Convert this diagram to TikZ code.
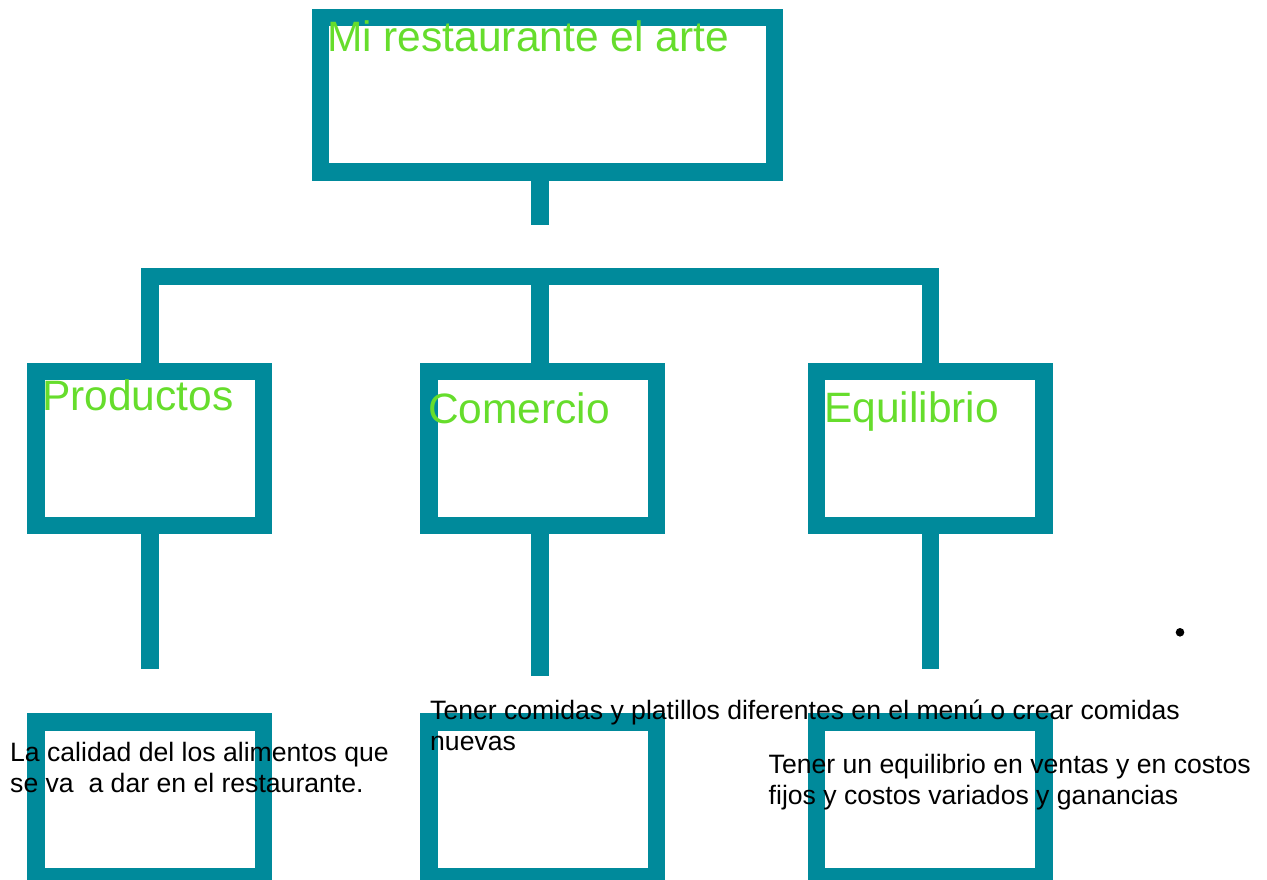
\documentclass[tikz,border=0pt]{standalone}
\usepackage{fontspec}
\setmainfont{Liberation Sans}
\usepackage{tikz}
\usetikzlibrary{positioning}
\definecolor{teal}{RGB}{0,138,155}
\definecolor{leaf}{RGB}{102,221,44}
\tikzset{
  box/.style={draw=teal, line width=17.5pt, minimum width=227.5pt, minimum height=154pt, inner sep=0pt},
  link/.style={draw=teal, line width=17.5pt},
  head/.style={text=leaf, font=\fontsize{42.5}{48}\selectfont, anchor=base west, inner sep=0pt},
  note/.style={text=black, font=\fontsize{26.6}{31}\selectfont, anchor=base west, inner sep=0pt, align=left}
}
\begin{document}
\begin{tikzpicture}[x=1pt, y=-1pt]
    \useasboundingbox (0, 0) rectangle (1267, 879);

    \node [box, minimum width=454pt, minimum height=154.5pt] (top) at (547.5, 94.75) {};
    \node [box] (prod) at (149.75, 448.5) {};
    \node [box] (comer) at (542.7, 448.5) {};
    \node [box] (equil) at (930.3, 448.5) {};
    \node [box, minimum height=154.75pt] (prodB) at (149.75, 799.4) {};
    \node [box, minimum height=154.75pt] (comerB) at (542.7, 799.4) {};
    \node [box, minimum height=154.75pt] (equilB) at (930.3, 799.4) {};

    % connectors
    \coordinate (stem) at (540, 225);
    \coordinate (hub) at (540, 276.5);
    \coordinate (endP) at (149.75, 669);
    \coordinate (endC) at (540, 675.5);
    \coordinate (endE) at (930.3, 669);
    \draw [link] (top.south -| stem) -- (stem);
    \draw [link] (prod.north) |- (hub) -| (equil.north);
    \draw [link] (hub) -- (hub |- comer.north);
    \draw [link] (prod.south) -- (endP);
    \draw [link] (comer.south -| endC) -- (endC);
    \draw [link] (equil.south) -- (endE);

    % titles
    \node [head] (tTop) at (327, 51) {Mi restaurante el arte};
    \node [head] (tProd) at (42, 410) {Productos};
    \node [head] (tComer) at (428, 423.3) {Comercio};
    \node [head] (tEquil) at (824, 422.7) {Equilibrio};

    % texts (base = last line)
    \node [note] (nProd) at (10, 792.7) {La calidad del los alimentos que\\se va\ \ a dar en el restaurante.};
    \node [note] (nComer) at (430, 750) {Tener comidas y platillos diferentes en el menú o crear comidas\\nuevas};
    \node [note] (nEquil) at (768.5, 804) {Tener un equilibrio en ventas y en costos\\fijos y costos variados y ganancias};

    \fill (1180, 632.3) circle (4.3);
\end{tikzpicture}
\end{document}
